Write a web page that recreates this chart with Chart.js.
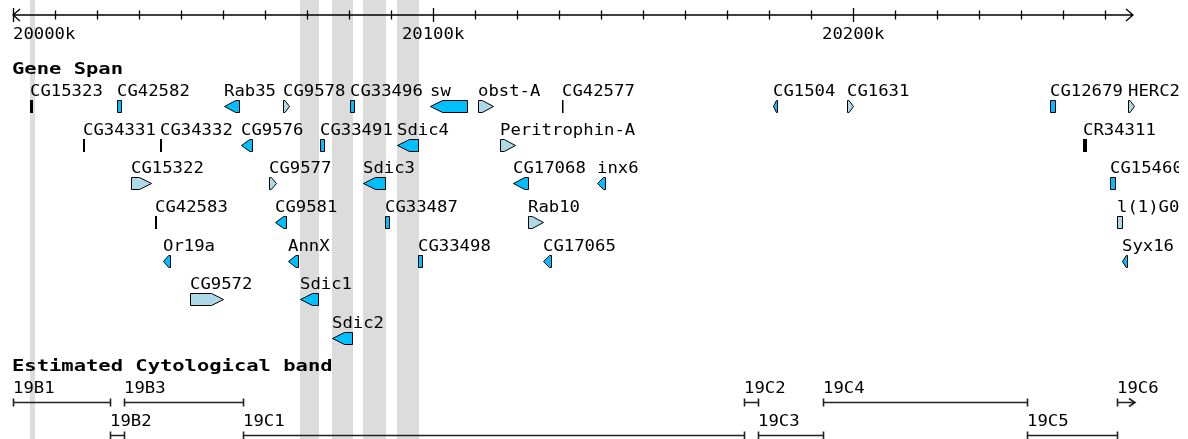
<!DOCTYPE html>
<html>
<head>
<meta charset="utf-8">
<script src="https://cdn.jsdelivr.net/npm/chart.js@4/dist/chart.umd.min.js"></script>
<style>
  html, body { margin: 0; padding: 0; background: #fff; }
  canvas { display: block; }
</style>
</head>
<body>
<canvas id="track" width="1188" height="439"></canvas>
<script>
// ruler labels, in kb
const rulerValues = [20000, 20100, 20200];
const rulerLabels = ['20000k', '20100k', '20200k'];

// Gene Span track (kb), row = layout line inside the track
const geneNames = [
  'CG15323', 'CG42582', 'Rab35', 'CG9578', 'CG33496', 'sw', 'obst-A', 'CG42577', 'CG1504', 'CG1631', 'CG12679', 'HERC2',
  'CG34331', 'CG34332', 'CG9576', 'CG33491', 'Sdic4', 'Peritrophin-A', 'CR34311',
  'CG15322', 'CG9577', 'Sdic3', 'CG17068', 'inx6', 'CG15460',
  'CG42583', 'CG9581', 'CG33487', 'Rab10', 'l(1)G0222',
  'Or19a', 'AnnX', 'CG33498', 'CG17065', 'Syx16',
  'CG9572', 'Sdic1',
  'Sdic2'
];
const geneStarts = [
  20004.16, 20024.75, 20050.22, 20064.26, 20080.21, 20099.25, 20110.67, 20130.66, 20180.88, 20198.49, 20246.80, 20265.37,
  20016.66, 20034.99, 20054.26, 20073.07, 20091.39, 20115.91, 20254.66,
  20028.08, 20060.93, 20083.30, 20119.00, 20138.99, 20261.09,
  20033.80, 20062.36, 20088.54, 20122.57, 20262.75,
  20035.70, 20065.45, 20096.39, 20126.14, 20263.94,
  20042.13, 20068.31,
  20075.92
];
const geneEnds = [
  20004.88, 20025.70, 20053.79, 20065.69, 20081.16, 20108.05, 20114.24, 20130.90, 20181.83, 20199.92, 20247.99, 20266.80,
  20017.14, 20035.46, 20056.88, 20074.02, 20096.39, 20119.48, 20255.61,
  20032.84, 20062.59, 20088.54, 20122.57, 20140.89, 20262.28,
  20034.27, 20064.97, 20089.49, 20126.14, 20263.94,
  20037.37, 20067.83, 20097.34, 20128.04, 20265.13,
  20049.98, 20072.59,
  20080.68
];
const geneStrands = [
  0, 0, -1, 1, 0, -1, 1, 0, -1, 1, 0, 1,
  0, 0, -1, 0, -1, 1, 0,
  1, 1, -1, -1, -1, 0,
  0, -1, 0, 1, 0,
  -1, -1, 0, -1, -1,
  1, -1,
  -1
];
const geneRows = [
  0, 0, 0, 0, 0, 0, 0, 0, 0, 0, 0, 0,
  1, 1, 1, 1, 1, 1, 1,
  2, 2, 2, 2, 2, 2,
  3, 3, 3, 3, 3,
  4, 4, 4, 4, 4,
  5, 5,
  6
];
// c = coding, p = pale coding, n = non-coding
const geneKinds = [
  'n', 'c', 'c', 'p', 'c', 'c', 'p', 'n', 'c', 'p', 'c', 'p',
  'n', 'n', 'c', 'c', 'c', 'p', 'n',
  'p', 'p', 'c', 'c', 'c', 'c',
  'n', 'c', 'c', 'p', 'p',
  'c', 'c', 'c', 'c', 'c',
  'p', 'c',
  'c'
];
const highlightedGenes = ['CG15323', 'Sdic1', 'Sdic2', 'Sdic3', 'Sdic4'];

// Estimated Cytological band track (kb)
const bandNames = ['19B1', '19B2', '19B3', '19C1', '19C2', '19C3', '19C4', '19C5', '19C6'];
const bandStarts = [20000.0, 20023.09, 20026.42, 20054.74, 20173.97, 20177.30, 20192.77, 20241.33, 20262.75];
const bandEnds = [20023.09, 20026.42, 20054.74, 20173.97, 20177.30, 20192.77, 20241.33, 20262.75, 20290.0];
const bandRows = [0, 1, 0, 1, 0, 1, 0, 1, 0];

const kindFill = { c: '#00bfff', p: '#add8e6', n: '#000000' };

const RULER_Y = 15;
const GENE_TITLE_Y = 74;
const GENE_ROW0 = 100;
const GENE_PITCH = 38.67;
const GLYPH_H = 12;
const BAND_TITLE_Y = 371;
const BAND_ROW0 = 402;
const BAND_PITCH = 33;
const TEXT_CLIP = 1179;

const LABEL_FONT = '16px "DejaVu Sans Mono"';
const LABEL_SX = 1.08;
const TITLE_FONT = 'bold 16px "DejaVu Sans Mono"';
const TITLE_SX = 1.28;

function drawText(ctx, str, x, y, bold) {
  ctx.save();
  ctx.font = bold ? TITLE_FONT : LABEL_FONT;
  ctx.translate(x, y);
  ctx.scale(bold ? TITLE_SX : LABEL_SX, 1);
  ctx.fillStyle = '#000';
  ctx.textBaseline = 'alphabetic';
  ctx.fillText(str, 0, 0);
  ctx.restore();
}

function textWidth(ctx, str) {
  ctx.save();
  ctx.font = LABEL_FONT;
  const w = ctx.measureText(str).width * LABEL_SX;
  ctx.restore();
  return w;
}

function geneGlyph(ctx, x0, x1, top, strand) {
  const h = GLYPH_H;
  const w = Math.max(x1 - x0, 2);
  const mid = top + h / 2;
  ctx.beginPath();
  if (strand === 0 || w < 3) {
    ctx.rect(x0, top, w, h);
  } else {
    const tip = Math.min(12, w * 0.75);
    if (strand > 0) {
      ctx.moveTo(x0, top);
      ctx.lineTo(x0 + w - tip, top);
      ctx.lineTo(x0 + w, mid);
      ctx.lineTo(x0 + w - tip, top + h);
      ctx.lineTo(x0, top + h);
    } else {
      ctx.moveTo(x0 + w, top);
      ctx.lineTo(x0 + tip, top);
      ctx.lineTo(x0, mid);
      ctx.lineTo(x0 + tip, top + h);
      ctx.lineTo(x0 + w, top + h);
    }
    ctx.closePath();
  }
}

const genomePlugin = {
  id: 'genomeTracks',
  beforeDraw(chart) {
    const ctx = chart.ctx;
    const x = chart.scales.x;
    ctx.save();
    ctx.fillStyle = '#fff';
    ctx.fillRect(0, 0, chart.width, chart.height);
    // highlighted genes shade the whole column
    ctx.fillStyle = '#dcdcdc';
    highlightedGenes.forEach(name => {
      const i = geneNames.indexOf(name);
      let a = x.getPixelForValue(geneStarts[i]);
      let b = x.getPixelForValue(geneEnds[i]) + 1;
      if (b - a < 4) { const c = (a + b) / 2; a = c - 2; b = c + 2; }
      ctx.fillRect(Math.round(a), 0, Math.round(b) - Math.round(a), chart.height);
    });
    ctx.restore();
  },
  afterDraw(chart) {
    const ctx = chart.ctx;
    const x = chart.scales.x;
    const y = chart.scales.y;
    const left = chart.chartArea.left;
    const right = chart.chartArea.right;

    // ruler
    ctx.save();
    ctx.strokeStyle = '#000';
    ctx.lineWidth = 1.3;
    const ry = y.getPixelForValue(RULER_Y);
    ctx.beginPath();
    ctx.moveTo(left, ry); ctx.lineTo(right, ry);
    ctx.moveTo(left + 7, ry - 6); ctx.lineTo(left, ry); ctx.lineTo(left + 7, ry + 6);
    ctx.moveTo(right - 7, ry - 6); ctx.lineTo(right, ry); ctx.lineTo(right - 7, ry + 6);
    for (let v = x.min; v < x.max - 2; v += 10) {
      const px = Math.round(x.getPixelForValue(v)) + 0.5;
      const major = rulerValues.includes(Math.round(v));
      ctx.moveTo(px, ry - (major ? 7 : 4.5));
      ctx.lineTo(px, ry + (major ? 7 : 4.5));
    }
    ctx.stroke();
    rulerValues.forEach((v, i) => {
      const c = x.getPixelForValue(v);
      const w = textWidth(ctx, rulerLabels[i]);
      drawText(ctx, rulerLabels[i], Math.max(c - w / 2, left), y.getPixelForValue(39), false);
    });
    ctx.restore();

    // Gene Span
    drawText(ctx, 'Gene Span', 12, y.getPixelForValue(GENE_TITLE_Y), true);
    ctx.save();
    ctx.beginPath();
    ctx.rect(0, 0, TEXT_CLIP, chart.height);
    ctx.clip();
    geneNames.forEach((name, i) => {
      const top = Math.round(y.getPixelForValue(GENE_ROW0 + GENE_PITCH * geneRows[i]));
      const x0 = x.getPixelForValue(geneStarts[i]);
      const x1 = x.getPixelForValue(geneEnds[i]);
      drawText(ctx, name, Math.round(x0), top - 4, false);
      if (geneKinds[i] === 'n') {
        ctx.fillStyle = '#000';
        ctx.fillRect(Math.round(x0), top, Math.max(Math.round(x1 - x0), 1.5), GLYPH_H + 1);
      } else {
        geneGlyph(ctx, Math.round(x0) + 0.5, Math.round(x1) + 0.5, top + 0.5, geneStrands[i]);
        ctx.fillStyle = kindFill[geneKinds[i]];
        ctx.fill();
        ctx.strokeStyle = '#000';
        ctx.lineWidth = 1;
        ctx.stroke();
      }
    });
    ctx.restore();

    // Estimated Cytological band
    drawText(ctx, 'Estimated Cytological band', 12, y.getPixelForValue(BAND_TITLE_Y), true);
    ctx.save();
    ctx.strokeStyle = '#222';
    ctx.lineWidth = 1.6;
    bandNames.forEach((name, i) => {
      const by = Math.round(y.getPixelForValue(BAND_ROW0 + BAND_PITCH * bandRows[i])) + 0.5;
      const a = Math.round(x.getPixelForValue(Math.max(bandStarts[i], x.min))) + 0.5;
      const clipped = bandEnds[i] > x.max;
      const b = clipped ? right + 2 : Math.round(x.getPixelForValue(bandEnds[i])) + 0.5;
      drawText(ctx, name, a - 0.5, by - 9.5, false);
      ctx.beginPath();
      ctx.moveTo(a, by); ctx.lineTo(b, by);
      ctx.moveTo(a, by - 4); ctx.lineTo(a, by + 4);
      if (clipped) {
        ctx.moveTo(b - 6, by - 4); ctx.lineTo(b, by); ctx.lineTo(b - 6, by + 4);
      } else {
        ctx.moveTo(b, by - 4); ctx.lineTo(b, by + 4);
      }
      ctx.stroke();
    });
    ctx.restore();
  }
};

new Chart(document.getElementById('track'), {
  type: 'scatter',
  data: { datasets: [] },
  options: {
    responsive: false,
    animation: false,
    layout: { padding: { left: 13, right: 55, top: 0, bottom: 0 } },
    scales: {
      x: { type: 'linear', display: false, min: 20000, max: 20266.6 },
      y: { type: 'linear', display: false, min: 0, max: 439, reverse: true }
    },
    plugins: { legend: { display: false }, tooltip: { enabled: false } }
  },
  plugins: [genomePlugin]
});
</script>
</body>
</html>
